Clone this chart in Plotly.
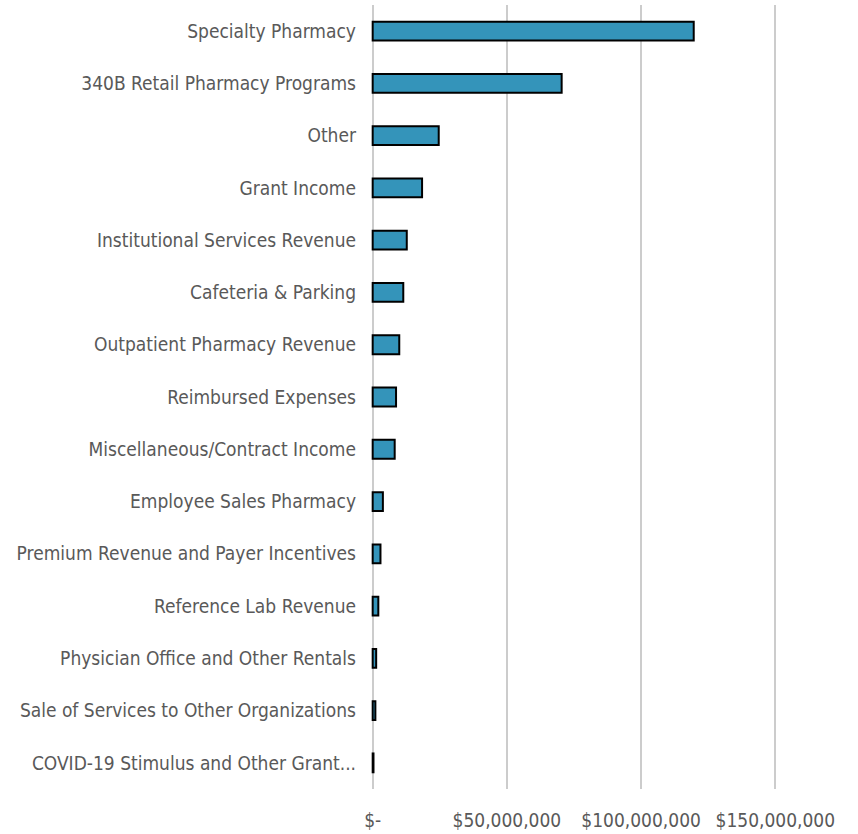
import plotly.graph_objects as go

categories = [
    "Specialty Pharmacy",
    "340B Retail Pharmacy Programs",
    "Other",
    "Grant Income",
    "Institutional Services Revenue",
    "Cafeteria & Parking",
    "Outpatient Pharmacy Revenue",
    "Reimbursed Expenses",
    "Miscellaneous/Contract Income",
    "Employee Sales Pharmacy",
    "Premium Revenue and Payer Incentives",
    "Reference Lab Revenue",
    "Physician Office and Other Rentals",
    "Sale of Services to Other Organizations",
    "COVID-19 Stimulus and Other Grant...",
]
values = [
    119_600_000, 70_400_000, 24_600_000, 18_400_000, 12_700_000,
    11_400_000, 9_900_000, 8_700_000, 8_200_000, 3_800_000,
    2_900_000, 2_100_000, 1_300_000, 1_000_000, 300_000,
]
tick_vals = [0, 50_000_000, 100_000_000, 150_000_000]
tick_text = ["$-", "$50,000,000", "$100,000,000", "$150,000,000"]

FONT = "DejaVu Sans Condensed, Liberation Sans Narrow, Arial Narrow, sans-serif"

fig = go.Figure(go.Bar(
    x=values,
    y=categories,
    orientation="h",
    marker=dict(color="#3494BA", line=dict(color="#000000", width=2)),
    width=0.36,
))

fig.update_layout(
    width=858,
    height=834,
    margin=dict(l=370, r=80, t=5, b=45),
    paper_bgcolor="white",
    plot_bgcolor="white",
    showlegend=False,
    font=dict(family=FONT, size=19, color="#595959"),
    xaxis=dict(
        range=[-1_000_000, 151_000_000],
        tickvals=tick_vals,
        ticktext=tick_text,
        showgrid=True,
        gridcolor="#CCCCCC",
        gridwidth=1.5,
        zeroline=False,
        showline=False,
        ticks="",
        ticklabelstandoff=18,
        automargin=False,
        tickfont=dict(family=FONT, size=19, color="#595959"),
        fixedrange=True,
    ),
    yaxis=dict(
        categoryorder="array",
        categoryarray=categories[::-1],
        showgrid=False,
        zeroline=False,
        showline=False,
        ticks="",
        ticklabelstandoff=13,
        automargin=False,
        tickfont=dict(family=FONT, size=19, color="#595959"),
        fixedrange=True,
    ),
)

fig.write_html(
    "out.html",
    config={"displayModeBar": False},
    post_script="document.body.style.margin='0';document.body.style.overflow='hidden';",
)
